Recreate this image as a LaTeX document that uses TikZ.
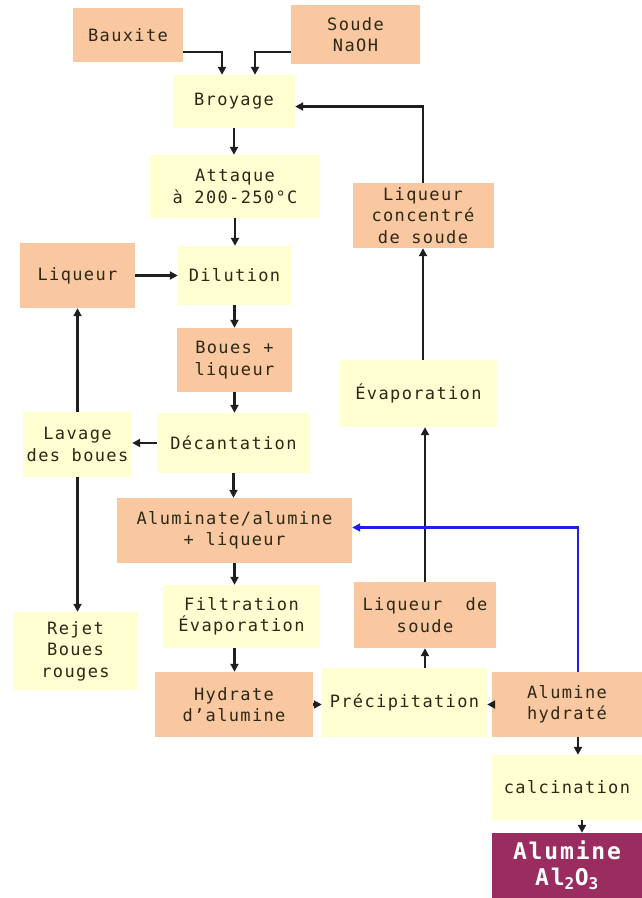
\documentclass[tikz,border=0pt]{standalone}
\usepackage{fontspec}
\setmainfont[LetterSpace=8]{DejaVu Sans Mono}
\usetikzlibrary{arrows.meta}
\definecolor{peach}{HTML}{F9C8A0}
\definecolor{cream}{HTML}{FFFFD2}
\definecolor{plum}{HTML}{9B2C60}
\definecolor{ink}{HTML}{2C2818}
\definecolor{flowblue}{HTML}{1F1FF0}
\begin{document}
\begin{tikzpicture}[x=1pt,y=-1pt,
  box/.style={inner sep=0pt, align=center, text=ink, font=\fontsize{17}{21.5}\selectfont},
  obox/.style={box, fill=peach},
  ybox/.style={box, fill=cream},
  sz/.style 2 args={minimum width=#1pt, minimum height=#2pt},
  arr/.style={line width=2.8pt, draw=black!88, -{Triangle[length=8pt,width=8pt]}},
  barr/.style={arr, draw=flowblue, -{Triangle[length=8pt,width=8pt]}}
]
\useasboundingbox (0,0) rectangle (642,898);
\fill[white] (0,0) rectangle (642,898);

\node[obox, sz={110}{54}] (baux) at (128,35) {Bauxite};
\node[obox, sz={129}{59}] (soude) at (355.5,34.5) {Soude\\NaOH};
\node[ybox, sz={122}{53}] (broy) at (234,101.5) {Broyage};
\node[ybox, sz={170}{63}] (att) at (235,186.5) {Attaque\\à 200-250°C};
\node[obox, sz={115}{65}] (liq) at (77.5,275.5) {Liqueur};
\node[ybox, sz={113}{59}] (dil) at (234.5,275.5) {Dilution};
\node[obox, sz={115}{64}] (boues) at (234.5,360) {Boues +\\liqueur};
\node[obox, sz={141}{65}] (lcs) at (423,215.5) {Liqueur\\concentré\\de soude};
\node[ybox, sz={157}{67}] (evap) at (418.5,393.5) {Évaporation};
\node[ybox, sz={109}{65}] (lav) at (77.5,444.5) {Lavage\\des boues};
\node[ybox, sz={153}{60}] (dec) at (233.5,443) {Décantation};
\node[obox, sz={235}{65}] (alu) at (234.5,530.5) {Aluminate/alumine\\+ liqueur};
\node[ybox, sz={157}{63}] (filt) at (241.5,616.5) {Filtration\\Évaporation};
\node[ybox, sz={125}{78}] (rej) at (75.5,651) {Rejet\\Boues\\rouges};
\node[obox, sz={158}{65}] (hyd) at (234,704.5) {Hydrate\\d'alumine};
\node[obox, sz={142}{66}] (lds) at (425,615) {Liqueur~~de\\soude};
\node[ybox, sz={165}{69}] (prec) at (404.5,702.5) {Précipitation};
\node[obox, sz={150}{65}] (ah) at (567,704.5) {Alumine\\hydraté};
\node[ybox, sz={150}{65}] (calc) at (567,787.5) {calcination};
\node[box, fill=plum, text=white, sz={150}{65}, font=\bfseries\fontsize{23}{26}\selectfont] (al) at (567,865.5) {Alumine\\Al\textsubscript{2}O\textsubscript{3}};

\draw[arr] ([yshift=-17pt]baux.east) -| ([xshift=-12pt]broy.north);
\draw[arr] ([yshift=-17.5pt]soude.west) -| ([xshift=21pt]broy.north);
\draw[arr] (broy.south) -- (broy.south |- att.north);
\draw[arr] (att.south) -- (att.south |- dil.north);
\draw[arr] (liq.east) -- (dil.west);
\draw[arr] (dil.south) -- (dil.south |- boues.north);
\draw[arr] (boues.south) -- (boues.south |- dec.north);
\draw[arr] (dec.west) -- (dec.west -| lav.east);
\draw[arr] (dec.south) -- (dec.south |- alu.north);
\draw[arr] (alu.south) -- (alu.south |- filt.north);
\draw[arr] (alu.south |- filt.south) -- (alu.south |- hyd.north);
\draw[arr] (lav.north) -- (lav.north |- liq.south);
\draw[arr] (lav.south) -- (lav.south |- rej.north);
\draw[arr] (hyd.east) -- (hyd.east -| prec.west);
\draw[arr] (ah.west) -- (ah.west -| prec.east);
\draw[arr] (lds.south |- prec.north) -- (lds.south);
\draw[arr] (lds.north) -- (lds.north |- evap.south);
\draw[arr] (lcs.south |- evap.north) -- (lcs.south);
\draw[arr] (lcs.north) |- ([yshift=-5pt]broy.east);
\draw[barr] ([xshift=11pt]ah.north) |- ([yshift=3pt]alu.east);
\draw[arr] ([xshift=11pt]ah.south) -- ([xshift=11pt]calc.north);
\draw[arr] ([xshift=15pt]calc.south) -- ([xshift=15pt]al.north);
\end{tikzpicture}
\end{document}
